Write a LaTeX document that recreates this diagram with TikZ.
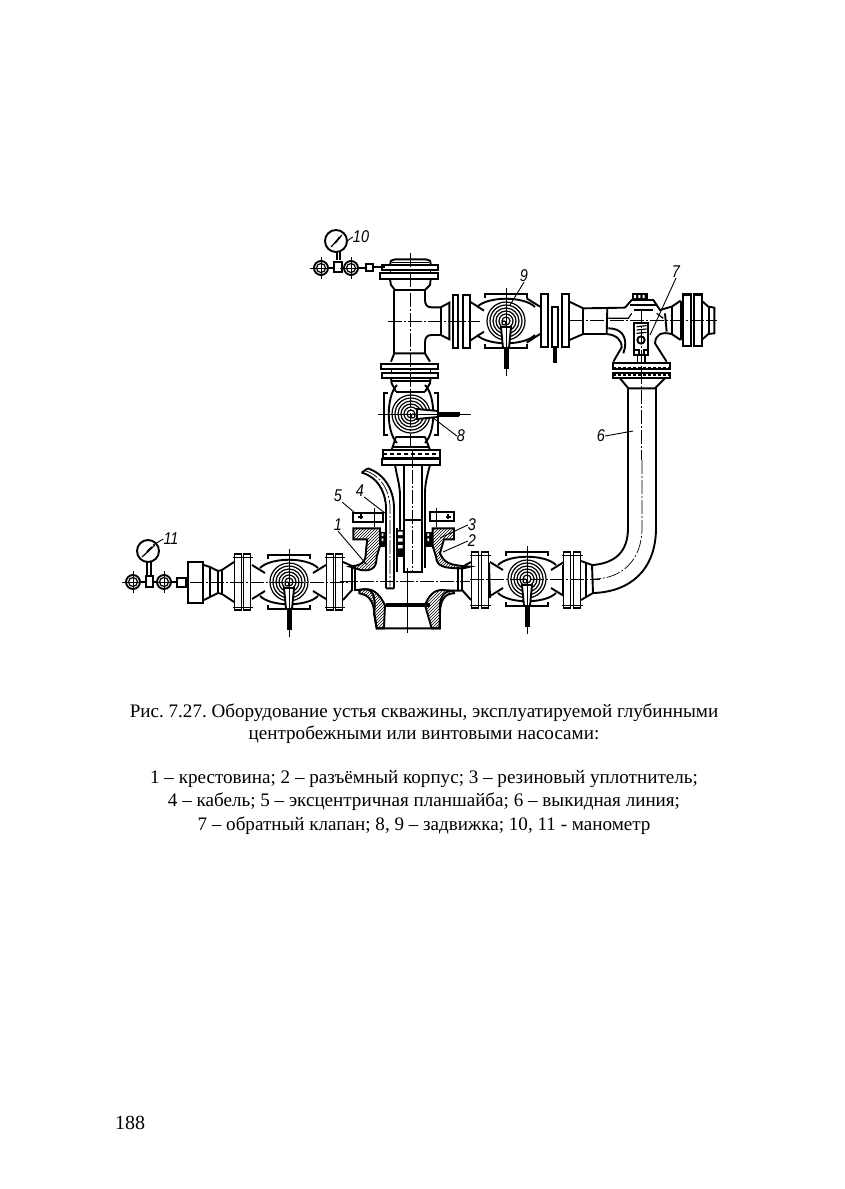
\documentclass[tikz,border=0pt]{standalone}
\usepackage{fontspec}
\setmainfont{Liberation Serif}
\newfontfamily\lblfont{Liberation Sans}[ItalicFont=* Italic]
\usetikzlibrary{patterns}
\frenchspacing
\tikzset{
  ln/.style={line width=1.2pt,black},
  thick ln/.style={line width=1.9pt,black},
  thin ln/.style={line width=.7pt,black},
  axis/.style={line width=.7pt,black,dash pattern=on 14pt off 2pt on 2pt off 2pt},
  hatchfill/.style={pattern=north east lines,pattern color=black},
  lbl/.style={font=\lblfont\itshape\fontsize{17}{17}\selectfont,inner sep=0pt,xscale=.85},
  leader/.style={line width=.9pt,black},
  capt/.style={font=\fontsize{19.1}{20}\selectfont,inner sep=0pt,anchor=base},
}
\newcommand{\valvearms}[2]{%
 \begin{scope}[shift={(#1,#2)}]
  \draw[thick ln] (-37,-17)--(-24,-9) (37,-17)--(24,-9) (-37,17)--(-24,9) (37,17)--(24,9);
 \end{scope}}
% valve at origin, handle pointing "down"
\newcommand{\valvebody}[3]{%
 \begin{scope}[shift={(#1,#2)},rotate=#3]
  \draw[thick ln] (-29,-14) .. controls (-18,-25) and (18,-25) .. (29,-14);
  \draw[thick ln] (-29,14) .. controls (-18,25) and (18,25) .. (29,14);
  \draw[thick ln] (-21,-23)--(-21,-27)--(21,-27)--(21,-23) (-21,23)--(-21,27)--(21,27)--(21,23);
  \foreach \r in {4,7,10,13,16,19} {\draw[ln] (0,0) circle (\r);}
  \draw[ln,fill=white] (-2,2) circle (2);
  \draw[thick ln,fill=white] (-5,6)--(5,6)--(3,27)--(-3,27)--cycle;
  \fill[black] (-2.5,27) rectangle (2.5,48);
  \draw[thin ln] (0,-33)--(0,55);
 \end{scope}}
% vertical flange: x, cy, half height, width
\newcommand{\flangeV}[4]{%
 \draw[thick ln,fill=white] (#1-#4/2,#2-#3) rectangle (#1+#4/2,#2+#3);
 \draw[thin ln] (#1-#4/2-2,#2-#3+3)--(#1+#4/2+2,#2-#3+3) (#1-#4/2-2,#2+#3-3)--(#1+#4/2+2,#2+#3-3);}
\newcommand{\smallvalve}[2]{%
 \draw[thick ln] (#1,#2) circle (7);
 \draw[ln] (#1,#2) circle (4.5);
 \draw[thin ln] (#1-11,#2)--(#1+11,#2) (#1,#2-11)--(#1,#2+11);}
\begin{document}
\begin{tikzpicture}[x=1pt,y=-1pt]
\useasboundingbox (0,0) rectangle (845,1189);
\fill[white] (0,0) rectangle (845,1189);

%% ===== top tee and valve 8 (zoom-1 frame)
\begin{scope}[shift={(290,220)},scale=1/3]
 \draw[thick ln] (300,135)--(303,122)--(315,118)--(408,118)--(420,122)--(423,135);
 \draw[thin ln] (305,128)--(418,128);
 \draw[thick ln,fill=white] (275,135) rectangle (445,150);
 \draw[thick ln,fill=white] (270,160) rectangle (445,178);
 \draw[thin ln] (300,150)--(300,160) (420,150)--(420,160);
 \draw[thick ln] (300,178)--(303,195)--(315,210)--(405,210)--(420,195)--(422,178);
 \draw[thick ln] (313,210)--(313,400);
 \draw[thick ln] (405,210)--(405,240) .. controls (405,255) and (412,262) .. (425,262)--(452,262);
 \draw[thick ln] (452,345)--(425,345) .. controls (412,345) and (405,352) .. (405,367)--(405,400);
 \draw[thick ln] (303,425)--(313,400)--(405,400)--(420,425);
 \draw[thick ln,fill=white] (273,432) rectangle (445,447);
 \draw[thick ln,fill=white] (275,458) rectangle (445,473);
 \draw[thin ln] (303,447)--(303,458) (420,447)--(420,458);
 \draw[thick ln] (303,473)--(305,490)--(318,515) (422,473)--(420,490)--(405,515);
 \draw[thick ln] (303,482)--(422,482);
 \draw[thick ln] (318,515)--(405,515) (318,650)--(405,650);
 \draw[thick ln] (318,650)--(305,690) (405,650)--(420,690);
 \draw[thick ln] (308,680)--(418,680);
 \draw[thick ln,fill=white] (280,695) rectangle (447,715);
 \draw[line width=2.2pt,dash pattern=on 3pt off 2pt] (280,705)--(447,705);
 % branch to valve 9
 \draw[thick ln] (452,262)--(452,345);
 \draw[thick ln] (452,262)--(478,248)--(478,358)--(452,345);
 \draw[thick ln,fill=white] (488,225) rectangle (505,385);
 \draw[thick ln,fill=white] (518,225) rectangle (540,385);
 \draw[thick ln] (540,245)--(582,272) (540,362)--(582,335);
 \draw[axis] (362,100)--(362,720);
 \draw[axis] (295,303)--(570,303);
\end{scope}
\valvebody{411}{414}{90}
\draw[black,line width=4pt,dash pattern=on 2pt off .6pt] (437,414)--(460,414);
\draw[thin ln] (460,414)--(471,414);

%% ===== gauge 10
\smallvalve{321}{268}
\smallvalve{351}{268}
\draw[ln] (337,243)--(337,260);
\draw[ln] (340,243)--(340,260);
\draw[thick ln] (334,262) rectangle (342,272);
\draw[thick ln] (328,268)--(334,268) (342,268)--(345,268);
\draw[thick ln] (358,268)--(365,268);
\draw[thick ln] (366,264) rectangle (373,271);
\draw[thick ln] (373,267)--(385,267);
\draw[thick ln,fill=white] (336,241) circle (11);
\draw[ln] (331,247)--(342,235);
\draw[line width=1.8pt] (335,243)--(340,237);

%% ===== valve 9 and line to right
\valvebody{506}{321}{0}
\begin{scope}[shift={(510,260)},scale=1/3]
 \draw[thick ln] (50,115)--(90,140) (50,248)--(90,222);
 \flangeV{103}{181}{80}{20}
 \draw[thick ln,fill=white] (125,140) rectangle (145,262);
 \fill[black] (128,262) rectangle (140,310);
 \flangeV{166}{181}{80}{22}
 \draw[thick ln] (178,125)--(220,145)--(345,143) (178,240)--(220,222)--(290,222);
 \draw[thick ln] (220,143)--(220,222);
 \draw[thick ln] (292,143)--(290,222);
 % check valve tee
 \draw[thick ln] (345,143)--(365,120)--(430,120)--(450,150)--(485,140);
 \fill[black] (367,100) rectangle (415,120);
 \fill[white] (372,105) rectangle (378,114) (385,105) rectangle (391,114) (398,105) rectangle (404,114);
 \draw[thick ln] (360,135)--(440,135) (372,150)--(430,150);
 \draw[ln] (295,175)--(355,175)--(365,160) (440,160)--(460,175);
 \draw[thick ln] (465,160)--(470,215);
 \draw[thick ln] (295,205) .. controls (330,205) and (350,225) .. (345,262)--(340,280);
 \draw[thick ln] (290,222) .. controls (320,225) and (335,240) .. (335,262)--(310,305);
 \draw[thick ln] (485,222) .. controls (455,215) and (437,222) .. (435,250)--(470,305);
 \draw[thick ln] (485,140)--(485,222);
 \draw[thick ln] (485,140)--(512,122) (485,222)--(512,240);
 \draw[thick ln] (512,122)--(512,240);
 \flangeV{530}{181}{78}{24}
 \flangeV{564}{181}{78}{22}
 \draw[thick ln] (575,122)--(595,140)--(613,143)--(613,220)--(595,222)--(575,240);
 \draw[thick ln] (597,140)--(597,222);
 \draw[thick ln] (372,190) rectangle (415,285);
 \draw[ln] (380,200)--(410,197) (380,210)--(410,207) (380,220)--(410,217);
 \draw[thick ln,fill=white] (393,240) circle (11);
 \draw[line width=1.8pt] (372,270) rectangle (388,285) (402,270) rectangle (415,285);
 \draw[ln] (383,285)--(383,325) (405,285)--(405,325);
 \draw[thick ln,fill=white] (310,308) rectangle (480,327);
 \draw[line width=2pt,dash pattern=on 3pt off 2pt] (310,325)--(480,325);
 \draw[thick ln,fill=white] (310,338) rectangle (480,355);
 \draw[line width=2pt,dash pattern=on 3pt off 2pt] (310,345)--(480,345);
 \draw[thick ln] (330,355)--(355,385)--(435,385)--(465,355);
 \draw[axis] (180,181)--(622,181);
 \draw[axis] (395,150)--(395,600);
\end{scope}

%% ===== discharge line 6
\draw[thick ln] (628,388)--(628,528) .. controls (628,552) and (615,563) .. (593,565);
\draw[thick ln] (656,388)--(656,528) .. controls (656,570) and (630,592) .. (593,593);
\draw[axis] (642,460)--(642,528) .. controls (642,560) and (622,579) .. (593,579);

%% ===== bottom-right valve
\valvearms{527}{579}
\valvebody{527}{579}{0}
\flangeV{475}{580}{28}{7}
\flangeV{485}{580}{28}{7}
\flangeV{567}{580}{28}{7}
\flangeV{577}{580}{28}{7}
\draw[thick ln] (489,563)--(490,598) (563,565)--(563,595);
\draw[thick ln] (581,561)--(592,565)--(593,593)--(581,600);
\draw[thick ln] (586,563)--(586,597);
\draw[axis] (470,579)--(600,579);

%% ===== bottom-left valve and gauge 11
\valvearms{289}{582}
\valvebody{289}{582}{0}
\flangeV{238}{582}{28}{7}
\flangeV{247}{582}{28}{7}
\flangeV{330}{582}{28}{7}
\flangeV{339}{582}{28}{7}
\draw[thick ln] (204,565)--(210,567)--(218,571)--(222,570)--(234,562) (204,600)--(210,597)--(218,593)--(222,594)--(234,602);
\draw[thick ln] (210,567)--(210,597) (218,571)--(218,593);
\draw[thick ln] (222,570)--(222,594);
\draw[thick ln,fill=white] (188,562) rectangle (203,603);
\draw[thick ln] (177,578) rectangle (186,587);
\smallvalve{133}{582}
\smallvalve{164}{582}
\draw[thick ln] (146,576) rectangle (153,587);
\draw[thick ln] (140,582)--(146,582) (153,582)--(157,582) (171,582)--(177,582);
\draw[ln] (147,562)--(147,576) (151,562)--(151,576);
\draw[thick ln,fill=white] (148,551) circle (11);
\draw[ln] (142,557)--(155,545);
\draw[line width=1.8pt] (147,552)--(152,547);
\draw[axis] (190,582)--(350,582);

%% ===== cross with cable and seal (zoom-4 frame)
\begin{scope}[shift={(330,450)},scale=1/3]
 \draw[thick ln,fill=white] (160,0) rectangle (330,25);
 \draw[line width=2pt,dash pattern=on 4pt off 3pt] (160,12)--(330,12);
 \fill[black] (195,25) rectangle (298,35);
 \draw[thick ln,fill=white] (155,28) rectangle (330,45);
 \draw[thick ln] (195,45) .. controls (200,75) and (208,100) .. (210,130)--(210,245);
 \draw[thick ln] (300,45) .. controls (292,75) and (285,100) .. (285,130)--(285,185);
 \draw[thick ln] (222,45)--(222,365)--(275,365)--(275,45);
 \draw[ln] (222,210)--(275,210);
 \draw[axis] (248,0)--(248,365);
 % cable
 \draw[thick ln] (95,68) .. controls (140,80) and (165,120) .. (168,170)--(168,415);
 \draw[thick ln] (113,55) .. controls (160,70) and (190,115) .. (192,170)--(192,415);
 \draw[thick ln] (168,415)--(192,415) (95,68)--(113,55);
 \draw[axis] (105,62) .. controls (150,75) and (178,118) .. (180,170)--(180,410);
 % plates
 \draw[thick ln,fill=white] (70,188) rectangle (160,215);
 \draw[thick ln] (85,200)--(100,200) (92,192)--(92,208);
 \draw[thin ln] (132,175)--(132,232);
 \draw[thick ln,fill=white] (300,185) rectangle (372,212);
 \draw[thick ln] (348,200)--(362,200) (355,192)--(355,208);
 \draw[thin ln] (320,175)--(320,232);
 % hatched body left and right
 \draw[thick ln,hatchfill] (70,235)--(150,235)--(150,288)--(140,320) .. controls (140,350) and (130,365) .. (92,360)--(60,350)
   .. controls (95,345) and (108,340) .. (108,300)--(112,268)--(70,268)--cycle;
 \draw[thick ln,hatchfill] (372,235)--(308,235)--(308,288)--(318,320) .. controls (320,350) and (340,355) .. (400,355)--(420,350)
   .. controls (355,345) and (345,340) .. (330,310)--(342,268)--(372,268)--cycle;
 % seal
 \fill[black] (148,245) rectangle (170,290);
 \fill[black] (285,245) rectangle (308,290);
 \fill[white] (155,250) rectangle (160,258) (155,265) rectangle (160,273) (292,250) rectangle (297,258) (292,265) rectangle (297,273);
 \fill[black] (200,240) rectangle (222,320);
 \fill[white] (204,245) rectangle (218,255) (204,265) rectangle (218,275) (204,285) rectangle (218,295);
 \draw[thick ln] (200,235)--(200,365) (285,180)--(285,355);
 % lower cross
 \draw[thick ln] (78,420)--(100,418) .. controls (125,415) and (140,435) .. (132,490)--(140,535)--(328,535)--(330,490)
    .. controls (325,445) and (340,420) .. (372,422)--(395,422);
 \draw[thick ln,hatchfill] (88,420)--(100,418) .. controls (125,415) and (145,425) .. (165,465)--(162,535)--(140,535)--(133,490) .. controls (130,450) and (115,435) .. (88,430)--cycle;
 \draw[thick ln,hatchfill] (370,422)--(335,420) .. controls (310,420) and (295,440) .. (285,465)--(305,535)--(330,535)--(330,490) .. controls (330,450) and (345,430) .. (372,430)--cycle;
 \draw[thick ln] (168,462)--(300,462);
 \draw[thick ln] (165,468)--(300,468);
 \draw[thick ln] (75,350)--(75,422) (385,352)--(385,422);
 \draw[thin ln] (232,355)--(232,548);
\end{scope}
% neck pieces of the cross
\draw[thick ln] (343,562)--(352,566)--(352,590)--(343,600);
\draw[thick ln] (471,562)--(462,567)--(462,590)--(471,600);
\draw[axis] (340,581)--(470,581);

%% ===== labels and leaders
\node[lbl] (n10) at (361,237) {10};
\coordinate (p10) at (347,241);
\draw[leader] (n10.west)--(p10);
\node[lbl] (n9) at (524,276) {9};
\coordinate (p9) at (510,305);
\draw[leader] (n9.south)--(p9);
\node[lbl] (n7) at (676,272) {7};
\coordinate (p7) at (650,335);
\draw[leader] (n7.south)--(p7);
\node[lbl] (n6) at (601,436) {6};
\coordinate (p6) at (633,431);
\draw[leader] (n6.east)--(p6);
\node[lbl] (n8) at (461,436) {8};
\coordinate (p8) at (432,417);
\draw[leader] (n8.west)--(p8);
\node[lbl] (n11) at (171,539) {11};
\coordinate (p11) at (153,545);
\draw[leader] (n11.west)--(p11);
\node[lbl] (n5) at (338,496) {5};
\coordinate (p5) at (355,513);
\draw[leader] (n5.south east)--(p5);
\node[lbl] (n4) at (360,491) {4};
\coordinate (p4) at (385,513);
\draw[leader] (n4.south east)--(p4);
\node[lbl] (n1) at (338,525) {1};
\coordinate (p1) at (367,565);
\draw[leader] (n1.south)--(p1);
\node[lbl] (n3) at (472,525) {3};
\coordinate (p3) at (440,538);
\draw[leader] (n3.west)--(p3);
\node[lbl] (n2) at (472,541) {2};
\coordinate (p2) at (443,552);
\draw[leader] (n2.west)--(p2);

%% ===== text
\node[capt] (c1) at (424,717) {Рис. 7.27. Оборудование устья скважины, эксплуатируемой глубинными};
\node[capt] (c2) at (424,739) {центробежными или винтовыми насосами:};
\node[capt] (c3) at (424,783) {1 – крестовина; 2 – разъёмный корпус; 3 – резиновый уплотнитель;};
\node[capt] (c4) at (424,806) {4 – кабель; 5 – эксцентричная планшайба; 6 – выкидная линия;};
\node[capt] (c5) at (424,830) {7 – обратный клапан; 8, 9 – задвижка; 10, 11 - манометр};
\node[font=\fontsize{20}{22}\selectfont,inner sep=0pt,anchor=base] (pg) at (130,1129) {188};
\end{tikzpicture}
\end{document}
